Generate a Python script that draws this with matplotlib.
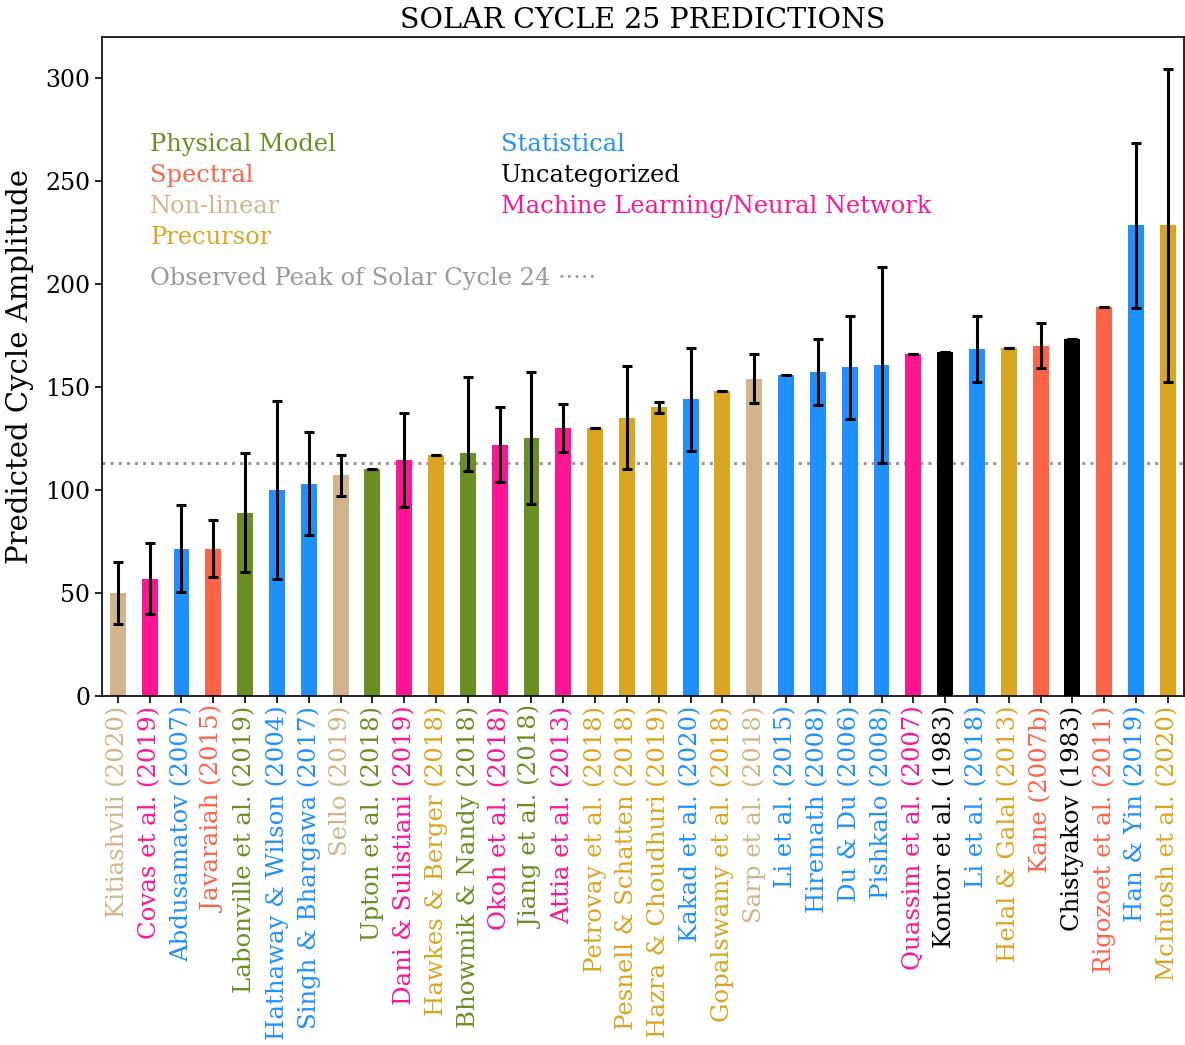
import matplotlib
matplotlib.use("Agg")
import matplotlib.pyplot as plt
import numpy as np

authors = ["Kitiashvili (2020)", "Covas et al. (2019)", "Abdusamatov (2007)", "Javaraiah (2015)",
           "Labonville et al. (2019)", "Hathaway & Wilson (2004)", "Singh & Bhargawa (2017)",
           "Sello (2019)", "Upton et al. (2018)", "Dani & Sulistiani (2019)", "Hawkes & Berger (2018)",
           "Bhowmik & Nandy (2018)", "Okoh et al. (2018)", "Jiang et al. (2018)", "Attia et al. (2013)",
           "Petrovay et al. (2018)", "Pesnell & Schatten (2018)", "Hazra & Choudhuri (2019)",
           "Kakad et al. (2020)", "Gopalswamy et al. (2018)", "Sarp et al. (2018)", "Li et al. (2015)",
           "Hiremath (2008)", "Du & Du (2006)", "Pishkalo (2008)", "Quassim et al. (2007)",
           "Kontor et al. (1983)", "Li et al. (2018)", "Helal & Galal (2013)", "Kane (2007b)",
           "Chistyakov (1983)", "Rigozoet et al. (2011)", "Han & Yin (2019)", "McIntosh et al. (2020)"]

categories = ["Non-linear", "ML", "Statistical", "Spectral", "Physical", "Statistical", "Statistical",
              "Non-linear", "Physical", "ML", "Precursor", "Physical", "ML", "Physical", "ML",
              "Precursor", "Precursor", "Precursor", "Statistical", "Precursor", "Non-linear",
              "Statistical", "Statistical", "Statistical", "Statistical", "ML", "Uncategorized",
              "Statistical", "Precursor", "Spectral", "Uncategorized", "Spectral", "Statistical",
              "Precursor"]

amplitude = [50, 57, 71.5, 71.5, 89, 100, 103, 107, 110, 114.5, 117, 118, 122, 125, 130,
             130, 135, 140, 144, 148, 154, 156, 157, 159.5, 160.5, 166, 167, 168.5, 169, 170,
             173, 189, 228.5, 228.5]
err_lower = [15, 17, 21, 14, 29, 43, 25, 10, 0, 23, 0, 9, 18, 32, 11.5,
             0, 25, 2.5, 25, 0, 12, 0, 16, 25, 47.5, 0, 0, 16, 0, 11,
             0, 0, 40, 76]
err_upper = [15, 17, 21, 14, 29, 43, 25, 10, 0, 23, 0, 37, 18, 32, 11.5,
             0, 25, 2.5, 25, 0, 12, 0, 16, 25, 47.5, 0, 0, 16, 0, 11,
             0, 0, 40, 76]

cycle24_peak = 113

cat_names = ["Physical", "Spectral", "Non-linear", "Precursor", "Statistical", "Uncategorized", "ML"]
cat_labels = ["Physical Model", "Spectral", "Non-linear", "Precursor", "Statistical",
              "Uncategorized", "Machine Learning/Neural Network"]
cat_colors = {"Physical": "olivedrab", "Spectral": "tomato", "Non-linear": "tan",
              "Precursor": "goldenrod", "Statistical": "dodgerblue", "Uncategorized": "black",
              "ML": "deeppink"}

plt.rcParams['font.family'] = ['DejaVu Serif']

fig = plt.figure(figsize=(11.85, 10.45), dpi=100)
ax = fig.add_axes([0.086, 0.334, 0.913, 0.631])

x = np.arange(len(authors))
colors = [cat_colors[c] for c in categories]
ax.bar(x, amplitude, width=0.5, color=colors, zorder=2)
ax.errorbar(x, amplitude, yerr=[err_lower, err_upper], fmt='none', ecolor='black',
            elinewidth=2.2, capsize=3.5, capthick=2.2, zorder=3)

ax.axhline(cycle24_peak, color='#999999', linestyle=':', linewidth=2.2, zorder=1)

ax.set_xlim(-0.5, len(authors) - 0.5)
ax.set_ylim(0, 320)
ax.set_xticks(x)
ax.set_xticklabels(authors, rotation=90, fontsize=17.6)
for lbl, c in zip(ax.get_xticklabels(), colors):
    lbl.set_color(c)
ax.tick_params(axis='y', labelsize=17, length=5, width=1.2)
ax.tick_params(axis='x', length=5, width=1.2, pad=2)
for s in ax.spines.values():
    s.set_linewidth(1.2)

ax.set_ylabel("Predicted Cycle Amplitude", fontsize=21, labelpad=8)
ax.set_title("SOLAR CYCLE 25 PREDICTIONS", fontsize=20.5, pad=6)

# category key
left_col = cat_names[:4]
right_col = cat_names[4:]
ys = [267.5, 252.5, 237.5, 222.5]
for name, yv in zip(left_col, ys):
    ax.text(1.02, yv, cat_labels[cat_names.index(name)], color=cat_colors[name],
            fontsize=17.4, va='center', ha='left')
for name, yv in zip(right_col, ys):
    ax.text(12.04, yv, cat_labels[cat_names.index(name)], color=cat_colors[name],
            fontsize=17.4, va='center', ha='left')
ax.text(1.02, 202.5, "Observed Peak of Solar Cycle 24 \u00b7\u00b7\u00b7\u00b7\u00b7", color='#999999',
        fontsize=17.4, va='center', ha='left')

fig.savefig("out.png", dpi=100)
